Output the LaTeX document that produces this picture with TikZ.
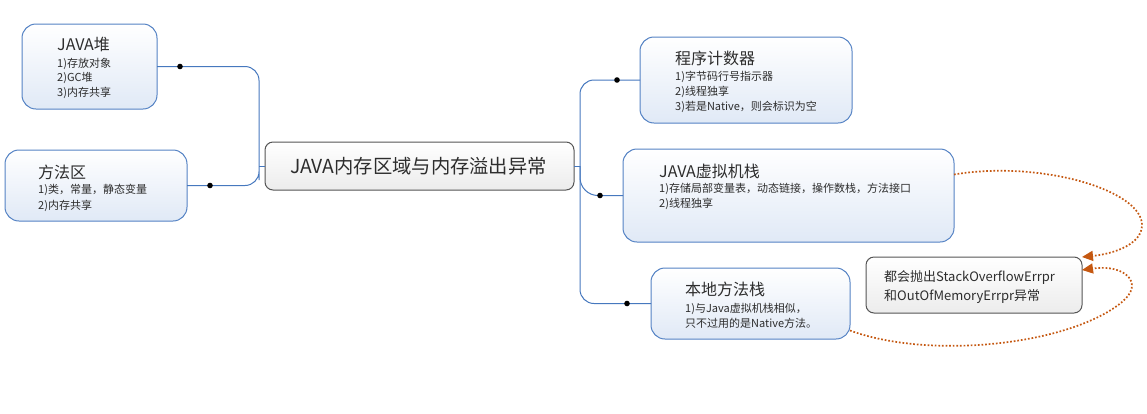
\documentclass[tikz,border=0pt]{standalone}
\usepackage{fontspec}
\setmainfont{Noto Sans CJK SC}
\usetikzlibrary{arrows.meta}
\definecolor{boxblue}{RGB}{84,130,196}
\definecolor{boxfill}{RGB}{224,233,246}
\definecolor{connblue}{RGB}{70,120,190}
\definecolor{graybd}{RGB}{85,85,85}
\definecolor{grayfill}{RGB}{236,236,236}
\definecolor{txt}{RGB}{45,45,45}
\definecolor{exarrow}{RGB}{197,88,17}
\tikzset{
  bluebox/.style={draw=boxblue, line width=1pt, rounded corners=14pt, top color=white, bottom color=boxfill, inner sep=0pt, outer sep=0pt, anchor=north west},
  graybox/.style={draw=graybd, line width=1pt, rounded corners=8pt, top color=white, bottom color=grayfill, inner sep=0pt, outer sep=0pt, anchor=north west},
  conn/.style={draw=connblue, line width=1pt},
  cdot/.style={fill=black},
  ttl/.style={anchor=base west, inner sep=0pt, text=txt, font=\fontsize{16}{19}\selectfont},
  bodyline/.style={anchor=base west, inner sep=0pt, text=txt, font=\fontsize{11}{13}\selectfont},
  exline/.style={anchor=base west, inner sep=0pt, text=txt, font=\fontsize{13}{15}\selectfont},
  excarrow/.style={draw=exarrow, line width=1.7pt, dash pattern=on 1.7pt off 1.9pt, -{Triangle[length=11pt,width=10pt]}},
}
\begin{document}
\begin{tikzpicture}[x=1pt,y=-1pt]
\useasboundingbox (0,0) rectangle (1147,413);
% boxes
\node[bluebox, minimum width=135pt, minimum height=85pt] (heap) at (22,24) {};
\node[bluebox, minimum width=182pt, minimum height=71pt] (method) at (5,150) {};
\node[graybox, minimum width=309pt, minimum height=48pt] (main) at (265,142) {};
\node[bluebox, minimum width=212pt, minimum height=86pt] (pc) at (640,37) {};
\node[bluebox, minimum width=331pt, minimum height=93pt] (jvm) at (623,149) {};
\node[bluebox, minimum width=199pt, minimum height=71pt] (native) at (651,268) {};
\node[graybox, minimum width=216pt, minimum height=56pt] (exc) at (866,257) {};
% texts
\node[inner sep=0pt, text=txt, font=\fontsize{19.3}{22}\selectfont] (maint) at ([xshift=-1pt]main.center) {JAVA内存区域与内存溢出异常};
\node[ttl] (heapt) at (57,50) {JAVA堆};
\node[bodyline] (heap1) at (57,67) {1)存放对象};
\node[bodyline] (heap2) at (57,81.5) {2)GC堆};
\node[bodyline] (heap3) at (57,96) {3)内存共享};
\node[ttl] (methodt) at (38,178) {方法区};
\node[bodyline] (method1) at (38,193.5) {1)类，常量，静态变量};
\node[bodyline] (method2) at (38,209) {2)内存共享};
\node[ttl] (pct) at (675,64) {程序计数器};
\node[bodyline] (pc1) at (675,80) {1)字节码行号指示器};
\node[bodyline] (pc2) at (675,95) {2)线程独享};
\node[bodyline] (pc3) at (675,110) {3)若是Native，则会标识为空};
\node[ttl] (jvmt) at (659,177) {JAVA虚拟机栈};
\node[bodyline] (jvm1) at (659,192) {1)存储局部变量表，动态链接，操作数栈，方法接口};
\node[bodyline] (jvm2) at (659,207) {2)线程独享};
\node[ttl] (nativet) at (685,295) {本地方法栈};
\node[bodyline] (native1) at (685,312) {1)与Java虚拟机栈相似，};
\node[bodyline] (native2) at (685,327) {只不过用的是Native方法。};
\node[exline] (exc1) at (884,281) {都会抛出StackOverflowErrpr};
\node[exline] (exc2) at (884,300) {和OutOfMemoryErrpr异常};
% left connectors
\coordinate (lj) at ([xshift=-6pt]main.west);
\draw[conn, rounded corners=14pt] (heap.east) -| (lj) |- (method.east);
\draw[conn] (main.west) -- (lj);
\fill[cdot] ([xshift=23pt]heap.east) circle (2.8pt);
\fill[cdot] ([xshift=23pt]method.east) circle (2.8pt);
% right connectors
\coordinate (rj) at ([xshift=6pt]main.east);
\draw[conn, rounded corners=14pt] (pc.west) -| (rj) |- (native.west);
\draw[conn] (main.east) -- (rj);
\draw[conn, rounded corners=18pt] (rj) |- (jvm.west);
\fill[cdot] ([xshift=-23pt]pc.west) circle (2.8pt);
\fill[cdot] ([xshift=-23pt]jvm.west) circle (2.8pt);
\fill[cdot] ([xshift=-24pt]native.west) circle (2.8pt);
% exception arrows
\draw[excarrow] ([yshift=21pt]jvm.east) .. controls (1040,160) and (1142,190) .. (1142,225) .. controls (1142,245) and (1112,254) .. (exc.north east);
\draw[excarrow] ([yshift=-27pt]native.east) .. controls (930,360) and (1070,345) .. (1122,302) .. controls (1145,283) and (1125,264) .. ([yshift=-13pt]exc.north east);
\end{tikzpicture}
\end{document}
